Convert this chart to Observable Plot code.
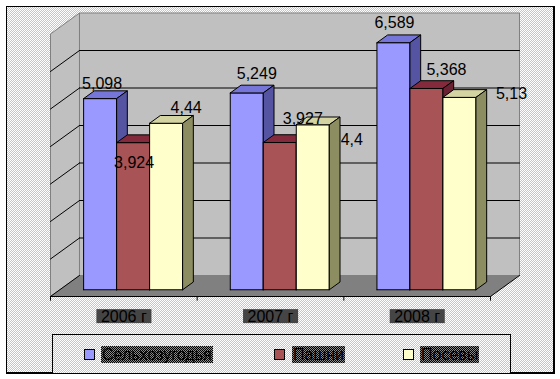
<!DOCTYPE html>
<html>
<head>
<meta charset="utf-8">
<script src="https://cdn.jsdelivr.net/npm/d3@7"></script>
<script src="https://cdn.jsdelivr.net/npm/@observablehq/plot@0.6"></script>
<style>
  body { margin: 0; background: #fff; font-family: "Liberation Sans", Arial, sans-serif; }
  .checker { background: repeating-conic-gradient(#c6c6c6 0 25%, #ffffff 0 50%) 0 0 / 2px 2px; }
  .hi { background: repeating-conic-gradient(#000 0 25%, #8a8a8a 0 50%) 0 0 / 2px 2px; }
  #frame { position: absolute; left: 6px; top: 6px; width: 549px; height: 368px; box-sizing: border-box;
           border-left: 1px solid #000; border-top: 1px solid #000; border-right: 2px solid #000; border-bottom: 2px solid #000; }
  #chart { position: absolute; left: 0; top: 0; }
  #legend { position: absolute; left: 52px; top: 334px; width: 459px; height: 39px; box-sizing: border-box;
            border: 1px solid #000; border-bottom: none; }
  .sw { position: absolute; top: 14px; width: 11px; height: 11px; border: 1px solid #000; box-sizing: border-box; }
  .lt { position: absolute; top: 11px; height: 17px; line-height: 17px; font-size: 16px; color: #000; padding: 0 1px; white-space: nowrap; }
</style>
</head>
<body>
<svg width="0" height="0" style="position:absolute"><defs id="defs"></defs></svg>
<div id="frame" class="checker"></div>
<div id="chart"></div>
<div id="legend" class="checker"></div>
<script>
// ---- data ----
const categories = ["2006 г", "2007 г", "2008 г"];
const seriesNames = ["Сельхозугодья", "Пашни", "Посевы"];
const selhozugodya = [5.098, 5.249, 6.589];
const pashni = [3.924, 3.927, 5.368];
const posevy = [4.44, 4.4, 5.13];
const gridValues = [1, 2, 3, 4, 5, 6];
const valueMax = 7;
const series = [selhozugodya, pashni, posevy];

// ---- layout / style ----
const frontColors = ["#9999ff", "#a85457", "#ffffcc"];
const patterns = {
  bTop: ["#9f9fff", "#4d4db3"], bSide: ["#7474c4", "#333380"],
  rTop: ["#a83e52", "#5e1828"], rSide: ["#8a3444", "#4a1020"],
  yTop: ["#ffffcc", "#a8a878"], ySide: ["#b4b484", "#66663f"],
  hi: ["#000000", "#8a8a8a"]
};
const topFill = ["url(#bTop)", "url(#rTop)", "url(#yTop)"];
const sideFill = ["url(#bSide)", "url(#rSide)", "url(#ySide)"];
// per-label pixel offsets (Excel's own label placement)
const labelOffsets = [
  [[2, -10], [1, 25], [20, -10]],
  [[10, -14], [23, -19], [39, 20]],
  [[1, -15], [20, -13], [52, 2]]
];

const defs = d3.select("#defs");
for (const [id, [c1, c2]] of Object.entries(patterns)) {
  const p = defs.append("pattern").attr("id", id).attr("patternUnits", "userSpaceOnUse")
    .attr("width", 2).attr("height", 2);
  p.append("rect").attr("width", 2).attr("height", 2).attr("fill", c1);
  p.append("rect").attr("width", 1).attr("height", 1).attr("fill", c2);
  p.append("rect").attr("x", 1).attr("y", 1).attr("width", 1).attr("height", 1).attr("fill", c2);
}

// oblique projection: X in category units, D depth 0..1, V value units
const KX = 29 / 146.67, KY = 21 / 37.5;
const P = (X, D, V) => ({x: X + D * KX, y: V + D * KY});
const nCat = categories.length;
const poly = (pts, fill, stroke, sw = 1) =>
  Plot.line([...pts, pts[0]], {x: "x", y: "y", fill, stroke, strokeWidth: sw, strokeLinejoin: "miter"});
const seg = (a, b, stroke) => Plot.line([a, b], {x: "x", y: "y", stroke, strokeWidth: 1});

const marks = [];
// walls
marks.push(poly([P(0, 0, 0), P(0, 1, 0), P(0, 1, valueMax), P(0, 0, valueMax)], "#c0c0c0", "#808080"));
marks.push(poly([P(0, 1, 0), P(nCat, 1, 0), P(nCat, 1, valueMax), P(0, 1, valueMax)], "#c0c0c0", "#808080"));
// floor
marks.push(poly([P(0, 0, 0), P(nCat, 0, 0), P(nCat, 1, 0), P(0, 1, 0)], "#808080", "none"));
// gridlines
for (const v of gridValues) {
  marks.push(seg(P(0, 1, v), P(nCat, 1, v), "#000"));
  marks.push(seg(P(0, 1, v), P(0, 0, v), "#000"));
}
// floor edges
marks.push(seg(P(0, 0, 0), P(nCat, 0, 0), "#000"));
marks.push(seg(P(0, 0, 0), P(0, 1, 0), "#000"));
marks.push(seg(P(nCat, 0, 0), P(nCat, 1, 0), "#000"));
// category ticks
marks.push(Plot.link(d3.range(nCat + 1), {x1: d => d, x2: d => d, y1: 0, y2: -0.11, stroke: "#000", strokeWidth: 1}));

// bars
const BAR0 = 0.1625, BARW = 0.225, D0 = 0.32, D1 = 0.69;
const labels = [];
categories.forEach((c, i) => {
  series.forEach((vals, s) => {
    const v = vals[i];
    const X0 = i + BAR0 + s * BARW, X1 = X0 + BARW;
    marks.push(poly([P(X0, D0, 0), P(X1, D0, 0), P(X1, D0, v), P(X0, D0, v)], frontColors[s], "#000"));
    marks.push(poly([P(X0, D0, v), P(X1, D0, v), P(X1, D1, v), P(X0, D1, v)], topFill[s], "#000"));
    marks.push(poly([P(X1, D0, 0), P(X1, D1, 0), P(X1, D1, v), P(X1, D0, v)], sideFill[s], "#000"));
    labels.push({...P(X0 + BARW / 2, D0, v), text: String(v).replace(".", ","), off: labelOffsets[i][s]});
  });
});
// value labels
for (const l of labels) {
  marks.push(Plot.text([l], {x: "x", y: "y", text: "text", dx: l.off[0], dy: l.off[1],
    fontSize: 16, lineAnchor: "bottom", textAnchor: "middle", fill: "#000"}));
}
// category labels
marks.push(Plot.text(categories.map((c, i) => ({...P(i + 0.5, 0, 0), c})),
  {x: "x", y: "y", text: "c", dy: 20, fontSize: 16, lineAnchor: "middle", textAnchor: "middle", fill: "#000"}));

const chart = Plot.plot({
  width: 560, height: 334, margin: 0,
  style: {background: "transparent", fontFamily: "Liberation Sans, Arial, sans-serif", overflow: "visible"},
  x: {domain: [0, 3], range: [50, 490], axis: null},
  y: {domain: [0, 7], range: [296, 33.5], axis: null},
  marks
});
document.getElementById("chart").append(chart);

// highlight boxes behind the category labels (as in the reference)
chart.querySelectorAll("text").forEach(el => {
  if (!categories.includes(el.textContent)) return;
  const bb = el.getBBox();
  const cy = bb.y + bb.height / 2;
  const r = document.createElementNS("http://www.w3.org/2000/svg", "rect");
  r.setAttribute("x", bb.x - 4.5);
  r.setAttribute("width", bb.width + 9);
  r.setAttribute("y", cy - 7);
  r.setAttribute("height", 14);
  r.setAttribute("fill", "url(#hi)");
  const t = el.getAttribute("transform");
  if (t) r.setAttribute("transform", t);
  el.parentNode.insertBefore(r, el);
});

// legend
const legend = d3.select("#legend");
const swX = [31, 221, 350], txX = [48, 239, 367];
seriesNames.forEach((n, s) => {
  legend.append("div").attr("class", "sw").style("left", swX[s] + "px").style("background", frontColors[s]);
  legend.append("div").attr("class", "lt hi").style("left", txX[s] + "px").text(n);
});
</script>
</body>
</html>
